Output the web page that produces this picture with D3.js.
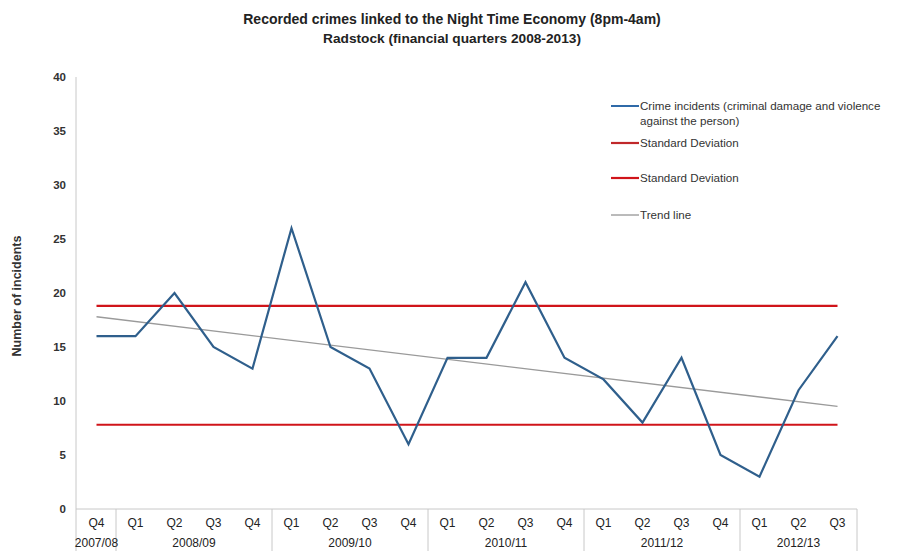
<!DOCTYPE html>
<html>
<head>
<meta charset="utf-8">
<script src="https://cdn.jsdelivr.net/npm/d3@7"></script>
<style>
  body { margin: 0; background: #fff; }
  svg { display: block; font-family: "Liberation Sans", Arial, sans-serif; }
</style>
</head>
<body>
<svg id="chart" width="903" height="551"></svg>
<script>
// Quarter labels along the x axis
const quarters = ["Q4","Q1","Q2","Q3","Q4","Q1","Q2","Q3","Q4","Q1","Q2","Q3","Q4","Q1","Q2","Q3","Q4","Q1","Q2","Q3"];
// Financial years and how many quarters each spans
const years = ["2007/08","2008/09","2009/10","2010/11","2011/12","2012/13"];
const yearSpans = [1, 4, 4, 4, 4, 3];
// Recorded incidents per quarter
const incidents = [16,16,20,15,13,26,15,13,6,14,14,21,14,12,8,14,5,3,11,16];
// Standard deviation bands (upper, lower)
const sdUpper = 18.8;
const sdLower = 7.8;
// Trend line end values (first and last quarter)
const trendEnds = [17.8, 9.5];
// Y axis ticks
const yTicks = [0,5,10,15,20,25,30,35,40];

const svg = d3.select("#chart");
const plotLeft = 77, plotRight = 857, plotTop = 77, plotBottom = 509;

const x = d3.scaleBand().domain(d3.range(quarters.length)).range([plotLeft, plotRight]).padding(0);
const y = d3.scaleLinear().domain([0, 40]).range([plotBottom, plotTop]);
const cx = i => x(i) + x.bandwidth() / 2;

// Title
svg.append("text").attr("x", 452).attr("y", 24).attr("text-anchor", "middle")
  .attr("font-size", 14).attr("font-weight", "bold").attr("fill", "#222")
  .text("Recorded crimes linked to the Night Time Economy (8pm-4am)");
svg.append("text").attr("x", 452).attr("y", 43).attr("text-anchor", "middle")
  .attr("font-size", 13.7).attr("font-weight", "bold").attr("fill", "#222")
  .text("Radstock (financial quarters 2008-2013)");

// Y axis title
svg.append("text").attr("transform", "translate(21,296) rotate(-90)")
  .attr("text-anchor", "middle").attr("font-size", 12.5).attr("font-weight", "bold").attr("fill", "#333")
  .text("Number of incidents");

// Y axis line and tick labels
svg.append("line").attr("x1", plotLeft - 1).attr("x2", plotLeft - 1).attr("y1", plotTop).attr("y2", 551)
  .attr("stroke", "#c8c8c8").attr("stroke-width", 1);
svg.append("g").selectAll("text").data(yTicks).join("text")
  .attr("x", 66).attr("y", d => y(d) + 4).attr("text-anchor", "end")
  .attr("font-size", 11.5).attr("font-weight", "bold").attr("fill", "#333")
  .text(d => d);

// X axis line
svg.append("line").attr("x1", plotLeft - 1).attr("x2", plotRight).attr("y1", plotBottom).attr("y2", plotBottom)
  .attr("stroke", "#c8c8c8").attr("stroke-width", 1);

// Group separators between financial years
let acc = 0;
const bounds = [0];
yearSpans.forEach(s => { acc += s; bounds.push(acc); });
const boundX = b => b < quarters.length ? x(b) : plotRight;
svg.append("g").selectAll("line").data(bounds.slice(1)).join("line")
  .attr("x1", boundX).attr("x2", boundX)
  .attr("y1", plotBottom).attr("y2", 551)
  .attr("stroke", "#c8c8c8").attr("stroke-width", 1);

// Quarter labels
svg.append("g").selectAll("text").data(quarters).join("text")
  .attr("x", (d, i) => cx(i)).attr("y", 527).attr("text-anchor", "middle")
  .attr("font-size", 12).attr("fill", "#222")
  .text(d => d);

// Year labels
svg.append("g").selectAll("text").data(years).join("text")
  .attr("x", (d, i) => (boundX(bounds[i]) + boundX(bounds[i + 1])) / 2)
  .attr("y", 547).attr("text-anchor", "middle")
  .attr("font-size", 12).attr("fill", "#222")
  .text(d => d);

// Standard deviation lines
[sdUpper, sdLower].forEach(v => {
  svg.append("line").attr("x1", cx(0)).attr("x2", cx(quarters.length - 1))
    .attr("y1", y(v)).attr("y2", y(v))
    .attr("stroke", "#d0141a").attr("stroke-width", 2.2);
});

// Trend line
svg.append("line").attr("x1", cx(0)).attr("x2", cx(quarters.length - 1))
  .attr("y1", y(trendEnds[0])).attr("y2", y(trendEnds[1]))
  .attr("stroke", "#9a9a9a").attr("stroke-width", 1.3);

// Incidents line
const line = d3.line().x((d, i) => cx(i)).y(d => y(d));
svg.append("path").datum(incidents).attr("d", line)
  .attr("fill", "none").attr("stroke", "#2f5f8c").attr("stroke-width", 2.2)
  .attr("stroke-linejoin", "miter");

// Legend
const legend = [
  { label: ["Crime incidents (criminal damage and violence", "against the person)"], color: "#2f6aa8", w: 2, y: 106 },
  { label: ["Standard Deviation"], color: "#c0282a", w: 2.2, y: 143 },
  { label: ["Standard Deviation"], color: "#d0141a", w: 2.2, y: 178 },
  { label: ["Trend line"], color: "#777", w: 1, y: 215 }
];
const lg = svg.append("g");
legend.forEach(item => {
  lg.append("line").attr("x1", 611).attr("x2", 639).attr("y1", item.y).attr("y2", item.y)
    .attr("stroke", item.color).attr("stroke-width", item.w);
  item.label.forEach((t, k) => {
    lg.append("text").attr("x", 640).attr("y", item.y + 4 + k * 15)
      .attr("font-size", 11.6).attr("fill", "#333").text(t);
  });
});
</script>
</body>
</html>
